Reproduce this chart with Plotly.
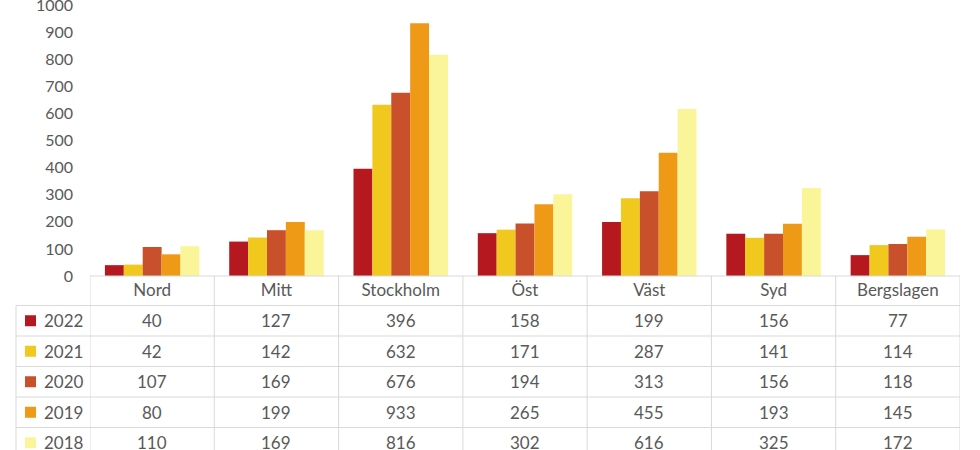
import plotly.graph_objects as go

regions = ["Nord", "Mitt", "Stockholm", "Öst", "Väst", "Syd", "Bergslagen"]
years = ["2022", "2021", "2020", "2019", "2018"]
v2022 = [40, 127, 396, 158, 199, 156, 77]
v2021 = [42, 142, 632, 171, 287, 141, 114]
v2020 = [107, 169, 676, 194, 313, 156, 118]
v2019 = [80, 199, 933, 265, 455, 193, 145]
v2018 = [110, 169, 816, 302, 616, 325, 172]
colors = ["#B5191F", "#F0C81E", "#C8502A", "#EE9A17", "#FBF59A"]
y_ticks = list(range(0, 1001, 100))

series = [v2022, v2021, v2020, v2019, v2018]

W, H = 980, 450
L, R, T, B = 90, 20, 5, 174
ph = H - T - B
pw = W - L - R
base = H - B  # pixel y of axis


def py(pix):
    return (base - pix) / ph


def px(pix):
    return (pix - L) / pw


fig = go.Figure()
for yr, vals, c in zip(years, series, colors):
    fig.add_trace(go.Bar(name=yr, x=regions, y=vals, marker=dict(color=c, line=dict(width=0)),
                         showlegend=False))

grid = "#D9D9D9"
txt = "#595959"
font = "Lato"
row_h = 30.5
first_line = 305.5
bottom = 460

shapes = []
annotations = []
shapes.append(dict(type="line", xref="paper", yref="paper", x0=0, x1=1, y0=0, y1=0,
                   line=dict(color=grid, width=1)))
for k in range(len(years)):
    yy = first_line + k * row_h
    shapes.append(dict(type="line", xref="paper", yref="paper", x0=px(16), x1=1,
                       y0=py(yy), y1=py(yy), line=dict(color=grid, width=1)))
for i in range(len(regions) + 1):
    shapes.append(dict(type="line", xref="x", yref="paper", x0=i - 0.5, x1=i - 0.5,
                       y0=0, y1=py(bottom), line=dict(color=grid, width=1)))
shapes.append(dict(type="line", xref="paper", yref="paper", x0=px(16), x1=px(16),
                   y0=py(first_line), y1=py(bottom), line=dict(color=grid, width=1)))

for k, (yr, vals, c) in enumerate(zip(years, series, colors)):
    cy = first_line + k * row_h + row_h / 2
    shapes.append(dict(type="rect", xref="paper", yref="paper", x0=px(25), x1=px(36),
                       y0=py(cy - 5.5), y1=py(cy + 5.5), fillcolor=c, line=dict(width=0)))
    annotations.append(dict(xref="paper", yref="paper", x=px(42), y=py(cy), text=yr,
                            showarrow=False, xanchor="left", yanchor="middle",
                            font=dict(family=font, size=17, color=txt)))
    for i, v in enumerate(vals):
        annotations.append(dict(xref="x", yref="paper", x=regions[i], y=py(cy), text=str(v),
                                showarrow=False, xanchor="center", yanchor="middle",
                                font=dict(family=font, size=17, color=txt)))

fig.update_layout(
    template="none",
    width=W, height=H,
    margin=dict(l=L, r=R, t=T, b=B, autoexpand=False),
    paper_bgcolor="white", plot_bgcolor="white",
    barmode="group", bargap=0.24, bargroupgap=0,
    shapes=shapes, annotations=annotations,
    xaxis=dict(range=[-0.5, 6.5], showgrid=False, showline=False, zeroline=False,
               automargin=False, ticks="", tickfont=dict(family=font, size=17, color=txt),
               ticklabelstandoff=2),
    yaxis=dict(range=[0, 1000], tickvals=y_ticks, showgrid=False, showline=False,
               automargin=False, zeroline=False, ticks="", ticklabeloverflow="allow",
               tickfont=dict(family=font, size=16, color=txt),
               ticklabelstandoff=16),
)

fig.write_html("out.html", config={"displayModeBar": False},
               post_script="document.body.style.margin='0';document.body.style.overflow='hidden';")
